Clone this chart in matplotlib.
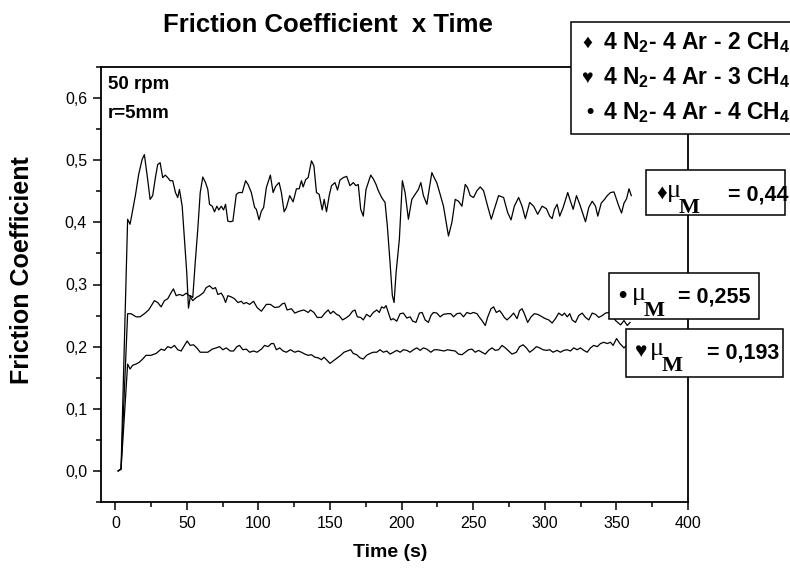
import matplotlib
matplotlib.use("Agg")
import matplotlib.pyplot as plt
from matplotlib.patches import Rectangle
from matplotlib.ticker import MultipleLocator, FuncFormatter

plt.rcParams['font.family'] = ['Liberation Sans', 'DejaVu Sans']
plt.rcParams['mathtext.fontset'] = 'custom'
plt.rcParams['mathtext.rm'] = 'Liberation Sans'
plt.rcParams['mathtext.bf'] = 'Liberation Sans:bold'

# 4 N2 - 4 Ar - 2 CH4  (diamond)
time_2ch4 = [2, 4, 8.6, 10.3, 14, 16.3, 18.7, 20.3, 22.6, 24.3,
             26.1, 28, 29.6, 31.3, 33.1, 34.9, 36.6, 38.3, 40.1, 42,
             43.6, 44.8, 46.7, 48.3, 49.9, 51.1, 52.5, 54.1, 55.8, 57.6,
             59.3, 61.1, 63, 64.6, 65.8, 67.7, 69.3, 70.9, 72.3, 74,
             75.6, 77, 78.6, 80.3, 82.1, 84.5, 86.3, 88.7, 91, 92.7,
             95, 97.3, 98.5, 100.4, 102, 103.6, 105.5, 108.3, 110.2, 112,
             114.4, 116, 117.9, 119.5, 121.8, 124.2, 126.5, 128.4, 130, 131.2,
             133, 134.7, 137, 138.7, 140.5, 142.4, 144.5, 145.9, 147.5, 149.4,
             151, 153.4, 155.2, 156.9, 159.2, 161.6, 163.9, 166.2, 168.1, 169.7,
             171.4, 173.2, 175.1, 176.7, 178.4, 180.2, 182.1, 183.7, 186, 188.4,
             190, 191.9, 193.5, 194.7, 196.1, 198.4, 200.5, 202.4, 204.7, 207.1,
             209.4, 211.7, 213.4, 215.2, 217.6, 219.4, 221.1, 222.7, 224.5, 226.9,
             229.2, 231.1, 232.7, 235.1, 237.4, 239.7, 242.1, 244.4, 246, 247.9,
             250.2, 252.6, 254.9, 257.2, 260.3, 262.6, 264.7, 267.7, 271.2, 274,
             276.4, 278.7, 281.7, 284.1, 286.4, 289.4, 292.2, 295, 298.1, 301.1,
             303.4, 305.1, 306.7, 308.6, 310.4, 312.8, 316, 317.9, 319.8, 322.1,
             324.4, 326.1, 328.4, 330.7, 333.1, 335.4, 337, 339.4, 341.7, 343.6,
             345.9, 348.3, 350.1, 351.7, 353.6, 355.3, 357.1, 358.8, 360.4]
cof_2ch4 = [0, 0.003, 0.405, 0.397, 0.443, 0.477, 0.501, 0.509, 0.469, 0.437,
            0.443, 0.472, 0.493, 0.496, 0.472, 0.476, 0.472, 0.467, 0.467, 0.448,
            0.44, 0.453, 0.426, 0.373, 0.319, 0.262, 0.282, 0.279, 0.335, 0.389,
            0.448, 0.473, 0.464, 0.453, 0.429, 0.426, 0.417, 0.426, 0.42, 0.426,
            0.42, 0.429, 0.402, 0.401, 0.402, 0.445, 0.448, 0.448, 0.467, 0.461,
            0.448, 0.424, 0.421, 0.404, 0.418, 0.424, 0.456, 0.476, 0.448, 0.458,
            0.464, 0.448, 0.417, 0.424, 0.443, 0.433, 0.454, 0.454, 0.467, 0.457,
            0.469, 0.472, 0.499, 0.491, 0.448, 0.445, 0.42, 0.437, 0.417, 0.443,
            0.459, 0.464, 0.452, 0.468, 0.472, 0.474, 0.459, 0.464, 0.459, 0.461,
            0.421, 0.41, 0.453, 0.464, 0.476, 0.47, 0.461, 0.451, 0.44, 0.432,
            0.394, 0.335, 0.282, 0.271, 0.319, 0.373, 0.467, 0.448, 0.405, 0.437,
            0.445, 0.453, 0.464, 0.443, 0.429, 0.456, 0.48, 0.472, 0.464, 0.445,
            0.426, 0.4, 0.378, 0.4, 0.437, 0.434, 0.426, 0.461, 0.456, 0.443,
            0.44, 0.451, 0.457, 0.451, 0.424, 0.405, 0.421, 0.443, 0.44, 0.416,
            0.404, 0.426, 0.44, 0.426, 0.406, 0.432, 0.426, 0.413, 0.426, 0.422,
            0.41, 0.406, 0.421, 0.429, 0.41, 0.424, 0.448, 0.434, 0.421, 0.443,
            0.429, 0.417, 0.401, 0.424, 0.434, 0.426, 0.41, 0.431, 0.437, 0.443,
            0.448, 0.449, 0.437, 0.426, 0.415, 0.431, 0.438, 0.454, 0.443]

# 4 N2 - 4 Ar - 4 CH4  (dot)
time_4ch4 = [2, 4, 8.6, 11, 14.5, 17.3, 20.3, 23.3, 27.3, 29.6,
             32, 34.3, 36.6, 39, 40.6, 42.5, 44.8, 47.1, 49.5, 51.8,
             54.1, 56.5, 58.8, 61.6, 63.5, 65.8, 68.1, 70, 71.6, 74,
             75.6, 77, 78.6, 81, 83.3, 85.6, 88, 89.6, 91.5, 93.8,
             96.6, 99, 102, 105.5, 108.3, 111.3, 114.4, 116.7, 118.3, 120,
             123, 125.4, 128.4, 131.7, 134.7, 136.3, 138.7, 141, 144, 146.4,
             148.7, 150.3, 152.2, 154.5, 156.4, 158.7, 161, 163.4, 165.7, 167.4,
             169, 171.4, 173.2, 175.5, 177.9, 180.2, 182.6, 184.4, 186, 187.7,
             189.1, 190.7, 192.4, 194.2, 196.6, 198.9, 201.2, 203.6, 205.9, 207.7,
             210, 212.4, 214.3, 216.4, 218.7, 220.4, 222.2, 224.6, 226.9, 229.2,
             232, 234.4, 236.2, 238.6, 240.9, 243.2, 245.6, 247.9, 250.2, 252.6,
             254.4, 256.1, 258.4, 260, 262.4, 264.2, 266.1, 268.4, 270.1, 271.7,
             273.6, 275.9, 278.2, 280.6, 282.4, 284.1, 285.7, 288, 290.4, 292.7,
             295, 298.1, 300.4, 302.7, 305.1, 307.4, 309.7, 312.1, 313.7, 315.6,
             317.4, 319.1, 321.4, 323.7, 326.1, 328.4, 330.7, 333.1, 335.4, 337.7,
             340.1, 342.4, 344.7, 347, 349.4, 352.9, 355.3, 357.6, 359.5]
cof_4ch4 = [0, 0.003, 0.253, 0.253, 0.248, 0.248, 0.253, 0.259, 0.274, 0.271,
            0.264, 0.274, 0.277, 0.287, 0.293, 0.282, 0.284, 0.282, 0.286, 0.282,
            0.274, 0.279, 0.282, 0.287, 0.295, 0.298, 0.293, 0.295, 0.284, 0.286,
            0.28, 0.271, 0.282, 0.28, 0.277, 0.271, 0.273, 0.269, 0.271, 0.268,
            0.273, 0.263, 0.257, 0.268, 0.268, 0.263, 0.264, 0.269, 0.27, 0.259,
            0.261, 0.254, 0.257, 0.259, 0.255, 0.259, 0.255, 0.247, 0.247, 0.254,
            0.259, 0.253, 0.257, 0.252, 0.25, 0.243, 0.246, 0.25, 0.257, 0.259,
            0.248, 0.247, 0.243, 0.252, 0.248, 0.255, 0.259, 0.255, 0.264, 0.262,
            0.266, 0.255, 0.243, 0.245, 0.241, 0.253, 0.254, 0.246, 0.248, 0.241,
            0.239, 0.254, 0.255, 0.243, 0.239, 0.25, 0.255, 0.254, 0.248, 0.252,
            0.253, 0.253, 0.248, 0.253, 0.254, 0.248, 0.255, 0.253, 0.255, 0.253,
            0.247, 0.242, 0.234, 0.247, 0.261, 0.264, 0.255, 0.258, 0.253, 0.247,
            0.243, 0.248, 0.254, 0.245, 0.258, 0.261, 0.253, 0.239, 0.248, 0.253,
            0.252, 0.248, 0.245, 0.243, 0.238, 0.245, 0.254, 0.25, 0.254, 0.248,
            0.253, 0.243, 0.239, 0.25, 0.254, 0.247, 0.243, 0.254, 0.252, 0.247,
            0.25, 0.254, 0.255, 0.25, 0.242, 0.235, 0.242, 0.234, 0.239]

# 4 N2 - 4 Ar - 3 CH4  (heart)
time_3ch4 = [2, 4, 8.6, 10.3, 12.1, 14.5, 16.8, 19.1, 21.4, 24.9,
             28.5, 32, 34.3, 36.6, 39, 41.3, 43.6, 46, 48.3, 50.2,
             52.3, 54.6, 56.9, 59.3, 62.3, 64.6, 67.7, 70.5, 72.8, 75.1,
             77.5, 80.3, 82.6, 84.9, 86.8, 89.1, 91.5, 93.8, 96.6, 99,
             102, 104.3, 106.7, 109, 110.6, 112.5, 114.8, 117.2, 119.5, 122.3,
             125.4, 127.7, 130, 132.4, 134.7, 137, 139.4, 141.7, 144, 145.7,
             147.5, 149.9, 152.2, 155, 157.4, 159.7, 162, 164.4, 166.2, 168.6,
             170.9, 173.2, 175.5, 177.9, 180.2, 182.6, 184.9, 187.2, 189.6, 191.9,
             194.2, 196.6, 198.9, 201.2, 203.6, 205.9, 208.2, 210.6, 212.9, 215.2,
             217.6, 220.4, 222.7, 225, 227.4, 229.7, 232, 234.4, 237.4, 239.7,
             242.1, 244.4, 246.7, 249.1, 251.4, 253.7, 256.1, 258.4, 260.7, 263.1,
             265.4, 267.7, 270.1, 272.4, 274.7, 277.1, 280.1, 282.4, 284.8, 287.1,
             289.4, 291.8, 294.1, 296.4, 298.7, 301.1, 303.4, 305.7, 308.6, 310.9,
             313.2, 315.6, 317.9, 320.2, 322.6, 324.9, 327.2, 329.6, 331.9, 334.2,
             336.6, 338.9, 341.2, 343.6, 345.9, 347.7, 350.1, 352.4, 355.3, 358.5]
cof_3ch4 = [0, 0.003, 0.172, 0.164, 0.17, 0.172, 0.175, 0.18, 0.186, 0.186,
            0.189, 0.196, 0.194, 0.2, 0.198, 0.202, 0.195, 0.193, 0.202, 0.209,
            0.202, 0.203, 0.198, 0.191, 0.191, 0.191, 0.196, 0.198, 0.2, 0.195,
            0.198, 0.193, 0.193, 0.2, 0.202, 0.195, 0.196, 0.191, 0.193, 0.191,
            0.196, 0.202, 0.2, 0.205, 0.205, 0.195, 0.198, 0.193, 0.191, 0.195,
            0.191, 0.193, 0.191, 0.188, 0.186, 0.187, 0.183, 0.182, 0.179, 0.183,
            0.179, 0.173, 0.177, 0.182, 0.186, 0.191, 0.193, 0.195, 0.189, 0.187,
            0.182, 0.18, 0.186, 0.189, 0.191, 0.191, 0.195, 0.191, 0.193, 0.188,
            0.191, 0.194, 0.191, 0.195, 0.194, 0.191, 0.195, 0.198, 0.194, 0.198,
            0.196, 0.191, 0.195, 0.195, 0.194, 0.193, 0.195, 0.194, 0.193, 0.188,
            0.187, 0.191, 0.195, 0.196, 0.191, 0.194, 0.191, 0.188, 0.194, 0.198,
            0.194, 0.195, 0.202, 0.198, 0.193, 0.188, 0.191, 0.2, 0.203, 0.198,
            0.191, 0.195, 0.2, 0.198, 0.195, 0.194, 0.195, 0.191, 0.194, 0.191,
            0.194, 0.195, 0.193, 0.198, 0.195, 0.198, 0.194, 0.191, 0.198, 0.202,
            0.2, 0.205, 0.207, 0.205, 0.207, 0.202, 0.213, 0.205, 0.198, 0.205]

legend_labels = ["4 N$_\\mathbf{2}$- 4 Ar - 2 CH$_\\mathbf{4}$",
                 "4 N$_\\mathbf{2}$- 4 Ar - 3 CH$_\\mathbf{4}$",
                 "4 N$_\\mathbf{2}$- 4 Ar - 4 CH$_\\mathbf{4}$"]
legend_symbols = ["\u2666", "\u2665", "\u2022"]
mean_values = ["= 0,44", "= 0,255", "= 0,193"]
mean_symbols = ["\u2666", "\u2022", "\u2665"]

W, H = 790, 573
fig = plt.figure(figsize=(W / 100, H / 100), dpi=100)


def fx(x):
    return x / W


def fy(y):
    return 1 - y / H


ax = fig.add_axes([fx(101), fy(502), (688 - 101) / W, (502 - 67) / H])
ax.plot(time_2ch4, cof_2ch4, color='black', lw=0.9)
ax.plot(time_4ch4, cof_4ch4, color='black', lw=0.9)
ax.plot(time_3ch4, cof_3ch4, color='black', lw=0.9)

ax.set_xlim(-10, 400)
ax.set_ylim(-0.05, 0.65)
ax.xaxis.set_major_locator(MultipleLocator(50))
ax.xaxis.set_minor_locator(MultipleLocator(25))
ax.yaxis.set_major_locator(MultipleLocator(0.1))
ax.yaxis.set_minor_locator(MultipleLocator(0.05))
ax.yaxis.set_major_formatter(FuncFormatter(lambda v, p: f"{v:.1f}".replace('.', ',')))
ax.tick_params(which='major', direction='out', length=6, width=1.1, labelsize=11.5, pad=4)
ax.tick_params(which='minor', direction='out', length=3.5, width=1.1)
for s in ax.spines.values():
    s.set_linewidth(1.3)

# titles and labels
fig.text(fx(163), fy(32), "Friction Coefficient  x Time", fontsize=18.5,
         fontweight='bold', ha='left', va='baseline')
fig.text(fx(390), fy(557), "Time (s)", fontsize=14, fontweight='bold',
         ha='center', va='baseline')
fig.text(fx(22), fy(270), "Friction Coefficient", fontsize=18, fontweight='bold',
         ha='center', va='center', rotation=90)
fig.text(fx(108), fy(89), "50 rpm", fontsize=13.5, fontweight='bold', va='baseline')
fig.text(fx(108), fy(118), "r=5mm", fontsize=13.5, fontweight='bold', va='baseline')

# legend box (runs past the right edge)
fig.add_artist(Rectangle((fx(571), fy(134)), (800 - 571) / W, (134 - 22) / H,
                         transform=fig.transFigure, fc='white', ec='black', lw=1.1))
leg_base = [49, 84, 119]
leg_sym_x = [582, 581, 586]
for lab, sym, yb, sx in zip(legend_labels, legend_symbols, leg_base, leg_sym_x):
    fig.text(fx(sx), fy(yb - 1), sym, fontsize=14 if sym != "\u2022" else 15,
             fontweight='bold', va='baseline')
    fig.text(fx(603), fy(yb), lab, fontsize=16.5, fontweight='bold', va='baseline')

# mean friction boxes
boxes = [(646, 170, 785, 215), (609, 273, 759, 319), (626, 329, 783, 377)]
sym_x = [656, 618, 635]
mu_x = [667, 632, 650]
val_x = [728, 678, 707]
base_y = [200, 303, 358]
for (x0, y0, x1, y1), sym, sx, mx, vx, by, val in zip(boxes, mean_symbols, sym_x, mu_x,
                                                      val_x, base_y, mean_values):
    fig.add_artist(Rectangle((fx(x0), fy(y1)), (x1 - x0) / W, (y1 - y0) / H,
                             transform=fig.transFigure, fc='white', ec='black', lw=1.1))
    fig.text(fx(sx), fy(by - 1), sym, fontsize=15 if sym != "\u2022" else 17,
             fontweight='bold', va='baseline')
    fig.text(fx(mx), fy(by - 3), "\u03bc", fontsize=19, family='Liberation Serif',
             va='baseline')
    fig.text(fx(mx + 12), fy(by + 13), "M", fontsize=16, family='Liberation Serif',
             fontweight='bold', va='baseline')
    fig.text(fx(vx), fy(by), val, fontsize=15.5, fontweight='bold', va='baseline')

fig.savefig("out.png", dpi=100)
